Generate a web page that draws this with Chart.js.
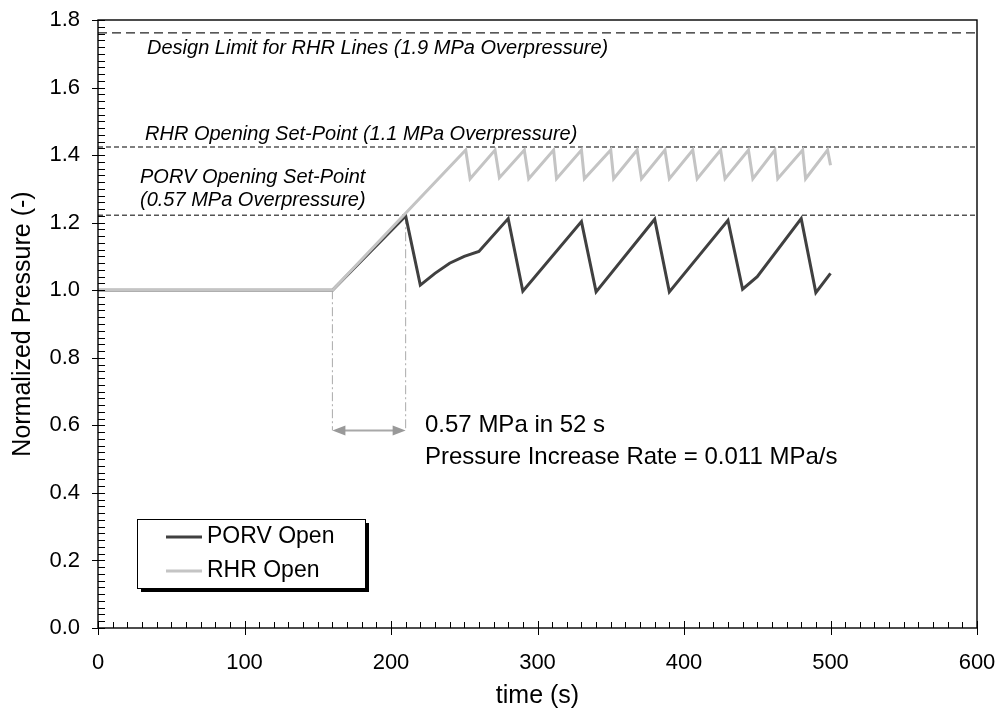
<!DOCTYPE html>
<html>
<head>
<meta charset="utf-8">
<script src="https://cdn.jsdelivr.net/npm/chart.js@4.4.1/dist/chart.umd.min.js"></script>
<style>
    html, body { margin: 0; padding: 0; background: #fff; }
    #wrap { width: 995px; height: 711px; position: relative; }
</style>
</head>
<body>
<div id="wrap"><canvas id="chart"></canvas></div>
<script>
// Axis ticks
const xTicks = [0, 100, 200, 300, 400, 500, 600];
const yTicks = [0.0, 0.2, 0.4, 0.6, 0.8, 1.0, 1.2, 1.4, 1.6, 1.8];
const xMinorStep = 10;
const yMinorStep = 0.02;

// PORV open case (s, normalized pressure)
const porvTime = [0, 160, 210, 220, 230, 240, 250, 260, 280, 290, 330, 340, 380, 390, 430, 440, 450, 480, 490, 500];
const porvPressure = [1.0, 1.0, 1.22, 1.015, 1.05, 1.08, 1.10, 1.115, 1.212, 0.997, 1.203, 0.995, 1.21, 0.995, 1.207, 1.003, 1.04, 1.212, 0.993, 1.05];

// RHR open case
const rhrTime = [0, 160, 251, 254, 271, 274, 291, 294, 311, 313, 330, 332, 350, 352, 368, 371, 387, 390, 406, 409, 425, 428, 444, 447, 462, 464, 481, 483, 498, 500];
const rhrPressure = [1.0, 1.0, 1.415, 1.33, 1.415, 1.333, 1.415, 1.33, 1.415, 1.33, 1.415, 1.33, 1.415, 1.33, 1.415, 1.33, 1.415, 1.33, 1.415, 1.33, 1.415, 1.33, 1.415, 1.33, 1.415, 1.33, 1.415, 1.33, 1.415, 1.37];

// Set-point levels
const limitSpan = [0, 600];
const designLimit = 1.762;
const rhrSetPoint = 1.424;
const porvSetPoint = 1.222;

// Ramp guides and arrow
const rampStart = [160, 1.0];
const rampEnd = [210, 1.222];
const arrowLevel = 0.585;

// Helpers
const toPoints = (xs, ys) => xs.map((x, i) => ({ x: x, y: ys[i] }));
const flatLine = (level) => limitSpan.map(x => ({ x: x, y: level }));
const guideLine = (p) => [{ x: p[0], y: p[1] }, { x: p[0], y: arrowLevel }];

const FONT = "'Liberation Sans', Arial, Helvetica, sans-serif";

/**
 * Frame, minor ticks, legend, notes and arrow
 */
const decorPlugin = {
    id: 'decor',
    afterDatasetsDraw(chart) {
        const ctx = chart.ctx;
        const area = chart.chartArea;
        const xs = chart.scales.x;
        const ys = chart.scales.y;

        ctx.save();

        // Ticks
        ctx.strokeStyle = '#000';
        ctx.lineWidth = 1;
        ctx.beginPath();
        for (let v = 0; v <= 600 + 1e-6; v += xMinorStep) {
            const px = Math.round(xs.getPixelForValue(v)) + 0.5;
            const major = Math.abs(v % 100) < 1e-6;
            ctx.moveTo(px, area.bottom + (major ? 7 : 0));
            ctx.lineTo(px, area.bottom - (major ? 7 : 6));
        }
        for (let i = 0; i <= 90; i++) {
            const v = i * yMinorStep;
            const py = Math.round(ys.getPixelForValue(v)) + 0.5;
            const major = i % 10 === 0;
            ctx.moveTo(area.left - (major ? 6 : 0), py);
            ctx.lineTo(area.left + 7, py);
        }
        ctx.stroke();

        // Frame
        ctx.lineWidth = 1.4;
        ctx.strokeRect(area.left, area.top, area.right - area.left, area.bottom - area.top);

        // Set-point notes
        ctx.fillStyle = '#000';
        ctx.textBaseline = 'middle';
        ctx.textAlign = 'left';
        ctx.font = 'italic 20px ' + FONT;
        ctx.fillText('Design Limit for RHR Lines (1.9 MPa Overpressure)', 147, 48);
        ctx.fillText('RHR Opening Set-Point (1.1 MPa Overpressure)', 145, 134);
        ctx.fillText('PORV Opening Set-Point', 140, 177);
        ctx.fillText('(0.57 MPa Overpressure)', 140, 200);

        // Ramp note
        ctx.font = '24px ' + FONT;
        ctx.fillText('0.57 MPa in 52 s', 425, 425);
        ctx.fillText('Pressure Increase Rate = 0.011 MPa/s', 425, 457);

        // Double arrow between guides
        const ay = ys.getPixelForValue(arrowLevel);
        const ax1 = xs.getPixelForValue(rampStart[0]);
        const ax2 = xs.getPixelForValue(rampEnd[0]);
        ctx.strokeStyle = '#a8a8a8';
        ctx.fillStyle = '#999';
        ctx.lineWidth = 2;
        ctx.beginPath();
        ctx.moveTo(ax1 + 8, ay);
        ctx.lineTo(ax2 - 8, ay);
        ctx.stroke();
        ctx.beginPath();
        ctx.moveTo(ax1, ay);
        ctx.lineTo(ax1 + 13, ay - 5);
        ctx.lineTo(ax1 + 13, ay + 5);
        ctx.closePath();
        ctx.moveTo(ax2, ay);
        ctx.lineTo(ax2 - 13, ay - 5);
        ctx.lineTo(ax2 - 13, ay + 5);
        ctx.closePath();
        ctx.fill();

        // Legend box with shadow
        const lx = 137, ly = 519, lw = 228, lh = 69;
        ctx.fillStyle = '#000';
        ctx.fillRect(lx + 4, ly + 4, lw, lh);
        ctx.fillStyle = '#fff';
        ctx.fillRect(lx, ly, lw, lh);
        ctx.strokeStyle = '#000';
        ctx.lineWidth = 1;
        ctx.strokeRect(lx + 0.5, ly + 0.5, lw, lh);

        const items = [
            { label: 'PORV Open', color: '#404040', y: 537 },
            { label: 'RHR Open', color: '#c4c4c4', y: 571 }
        ];
        ctx.font = '23px ' + FONT;
        items.forEach(it => {
            ctx.strokeStyle = it.color;
            ctx.lineWidth = 3;
            ctx.beginPath();
            ctx.moveTo(166, it.y);
            ctx.lineTo(202, it.y);
            ctx.stroke();
            ctx.fillStyle = '#000';
            ctx.fillText(it.label, 207, it.y);
        });

        ctx.restore();
    }
};

const ctx = document.getElementById('chart').getContext('2d');

new Chart(ctx, {
    type: 'scatter',
    data: {
        datasets: [
            {
                label: 'RHR Open',
                data: toPoints(rhrTime, rhrPressure),
                showLine: true,
                borderColor: '#c4c4c4',
                borderWidth: 3,
                pointRadius: 0,
                order: 1
            },
            {
                label: 'PORV Open',
                data: toPoints(porvTime, porvPressure),
                showLine: true,
                borderColor: '#404040',
                borderWidth: 3,
                pointRadius: 0,
                order: 2
            },
            {
                label: 'Design Limit',
                data: flatLine(designLimit),
                showLine: true,
                borderColor: '#222',
                borderWidth: 1.3,
                borderDash: [9, 5],
                pointRadius: 0,
                order: 3
            },
            {
                label: 'RHR Set-Point',
                data: flatLine(rhrSetPoint),
                showLine: true,
                borderColor: '#555',
                borderWidth: 1.3,
                borderDash: [5, 3],
                pointRadius: 0,
                order: 3
            },
            {
                label: 'PORV Set-Point',
                data: flatLine(porvSetPoint),
                showLine: true,
                borderColor: '#555',
                borderWidth: 1.3,
                borderDash: [5, 3],
                pointRadius: 0,
                order: 3
            },
            {
                label: 'Ramp start',
                data: guideLine(rampStart),
                showLine: true,
                borderColor: '#aaa',
                borderWidth: 1,
                borderDash: [9, 3, 2, 3],
                pointRadius: 0,
                order: 4
            },
            {
                label: 'Ramp end',
                data: guideLine(rampEnd),
                showLine: true,
                borderColor: '#aaa',
                borderWidth: 1,
                borderDash: [9, 3, 2, 3],
                pointRadius: 0,
                order: 4
            }
        ]
    },
    options: {
        responsive: true,
        maintainAspectRatio: false,
        animation: false,
        layout: {
            padding: { top: 20, right: 18, left: 0, bottom: 0 }
        },
        plugins: {
            legend: { display: false },
            tooltip: { enabled: false }
        },
        scales: {
            x: {
                type: 'linear',
                min: 0,
                max: 600,
                afterBuildTicks: (scale) => { scale.ticks = xTicks.map(v => ({ value: v })); },
                afterFit: (scale) => {
                    scale.height = 83;
                    scale.paddingLeft = 0;
                    scale.paddingRight = 0;
                },
                grid: { display: false, drawTicks: false },
                border: { display: false },
                ticks: {
                    color: '#000',
                    padding: 22,
                    maxRotation: 0,
                    font: { family: FONT, size: 22 }
                },
                title: {
                    display: true,
                    text: 'time (s)',
                    color: '#000',
                    padding: { top: 0, bottom: 0 },
                    font: { family: FONT, size: 25 }
                }
            },
            y: {
                type: 'linear',
                min: 0,
                max: 1.8,
                afterBuildTicks: (scale) => { scale.ticks = yTicks.map(v => ({ value: v })); },
                afterFit: (scale) => {
                    scale.width = 98;
                    scale.paddingTop = 0;
                    scale.paddingBottom = 0;
                },
                grid: { display: false, drawTicks: false },
                border: { display: false },
                ticks: {
                    color: '#000',
                    padding: 18,
                    font: { family: FONT, size: 22 },
                    callback: (v) => Number(v).toFixed(1)
                },
                title: {
                    display: true,
                    text: 'Normalized Pressure (-)',
                    color: '#000',
                    padding: { top: 8, bottom: 0 },
                    font: { family: FONT, size: 25 }
                }
            }
        }
    },
    plugins: [decorPlugin]
});
</script>
</body>
</html>
